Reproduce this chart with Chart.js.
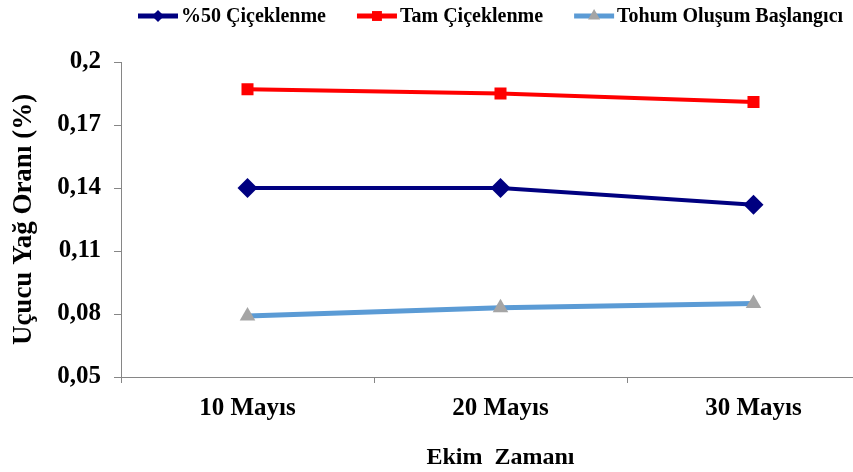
<!DOCTYPE html>
<html lang="tr">
<head>
<meta charset="UTF-8">
<title>Uçucu Yağ Oranı</title>
<style>
  html, body { margin: 0; padding: 0; background: #fff; overflow: hidden; }
  #wrap { width: 853px; height: 472px; overflow: hidden; }
</style>
</head>
<body>
<div id="wrap"><canvas id="myChart" width="890" height="472"></canvas></div>
<script src="https://cdn.jsdelivr.net/npm/chart.js"></script>
<script>
// data
var labels = ['10 Mayıs', '20 Mayıs', '30 Mayıs'];
var seriesNames = ['%50 Çiçeklenme', 'Tam Çiçeklenme', 'Tohum Oluşum Başlangıcı'];
var cicek50 = [0.140, 0.140, 0.132];
var tamCicek = [0.187, 0.185, 0.181];
var tohum = [0.079, 0.083, 0.085];
var yTicks = [0.05, 0.08, 0.11, 0.14, 0.17, 0.2];

var FONT = '"Liberation Serif", "Times New Roman", serif';
var AXIS = '#868686';

function fmt(v) {
    return Number(v.toFixed(2)).toString().replace('.', ',');
}

// legend drawn by hand: line sample with the marker in the middle, like Excel
var lineLegend = {
    id: 'lineLegend',
    afterDraw: function (chart) {
        var ctx = chart.ctx;
        var x = 138, y = 16;
        ctx.save();
        ctx.font = 'bold 20px ' + FONT;
        ctx.textBaseline = 'middle';
        chart.data.datasets.forEach(function (ds) {
            ctx.strokeStyle = ds.borderColor;
            ctx.lineWidth = 5;
            ctx.beginPath();
            ctx.moveTo(x, y);
            ctx.lineTo(x + 40, y);
            ctx.stroke();
            ctx.fillStyle = ds.pointBackgroundColor;
            Chart.helpers.drawPoint(ctx, {
                pointStyle: ds.pointStyle,
                radius: ds.legendRadius,
                borderWidth: 0,
                rotation: 0
            }, x + 20, y);
            ctx.fillStyle = '#000';
            ctx.fillText(ds.label, x + 43, y + 1);
            x += 43 + ctx.measureText(ds.label).width + 31;
        });
        ctx.restore();
    }
};

var ctx = document.getElementById('myChart').getContext('2d');
var myChart = new Chart(ctx, {
    type: 'line',
    data: {
        labels: labels,
        datasets: [
            {
                label: seriesNames[0],
                data: cicek50,
                borderColor: '#000080',
                borderWidth: 4,
                pointStyle: 'rectRot',
                pointRadius: 10,
                pointBackgroundColor: '#000080',
                pointBorderWidth: 0,
                legendRadius: 6
            },
            {
                label: seriesNames[1],
                data: tamCicek,
                borderColor: '#ff0000',
                borderWidth: 4,
                pointStyle: 'rect',
                pointRadius: 8.5,
                pointBackgroundColor: '#ff0000',
                pointBorderWidth: 0,
                legendRadius: 7
            },
            {
                label: seriesNames[2],
                data: tohum,
                borderColor: '#5b9bd5',
                borderWidth: 5,
                pointStyle: 'triangle',
                pointRadius: 9,
                pointBackgroundColor: '#a5a5a5',
                pointBorderWidth: 0,
                legendRadius: 7
            }
        ]
    },
    options: {
        responsive: false,
        animation: false,
        layout: { padding: { top: 62, right: 5, bottom: 0, left: 8 } },
        elements: { line: { tension: 0 } },
        plugins: {
            legend: { display: false },
            tooltip: { enabled: false }
        },
        scales: {
            x: {
                offset: true,
                grid: {
                    offset: true,
                    drawOnChartArea: false,
                    color: AXIS,
                    tickLength: 6
                },
                border: { color: AXIS },
                ticks: {
                    color: '#000',
                    padding: 11,
                    maxRotation: 0,
                    font: { family: FONT, size: 25, weight: 'bold' }
                },
                title: {
                    display: true,
                    text: 'Ekim  Zamanı',
                    color: '#000',
                    padding: 0,
                    font: { family: FONT, size: 24, weight: 'bold' }
                },
                afterFit: function (scale) { scale.height = 95; }
            },
            y: {
                min: yTicks[0],
                max: yTicks[yTicks.length - 1],
                afterBuildTicks: function (scale) {
                    scale.ticks = yTicks.map(function (v) { return { value: v }; });
                },
                grid: {
                    drawOnChartArea: false,
                    color: AXIS,
                    tickLength: 7
                },
                border: { color: AXIS },
                ticks: {
                    color: '#000',
                    padding: 13,
                    callback: function (v) { return fmt(v); },
                    font: { family: FONT, size: 25, weight: 'bold' }
                },
                title: {
                    display: true,
                    text: 'Uçucu Yağ Oranı (%)',
                    color: '#000',
                    padding: 0,
                    font: { family: FONT, size: 27, weight: 'bold' }
                },
                afterFit: function (scale) { scale.width = 113; }
            }
        }
    },
    plugins: [lineLegend]
});
</script>
</body>
</html>
